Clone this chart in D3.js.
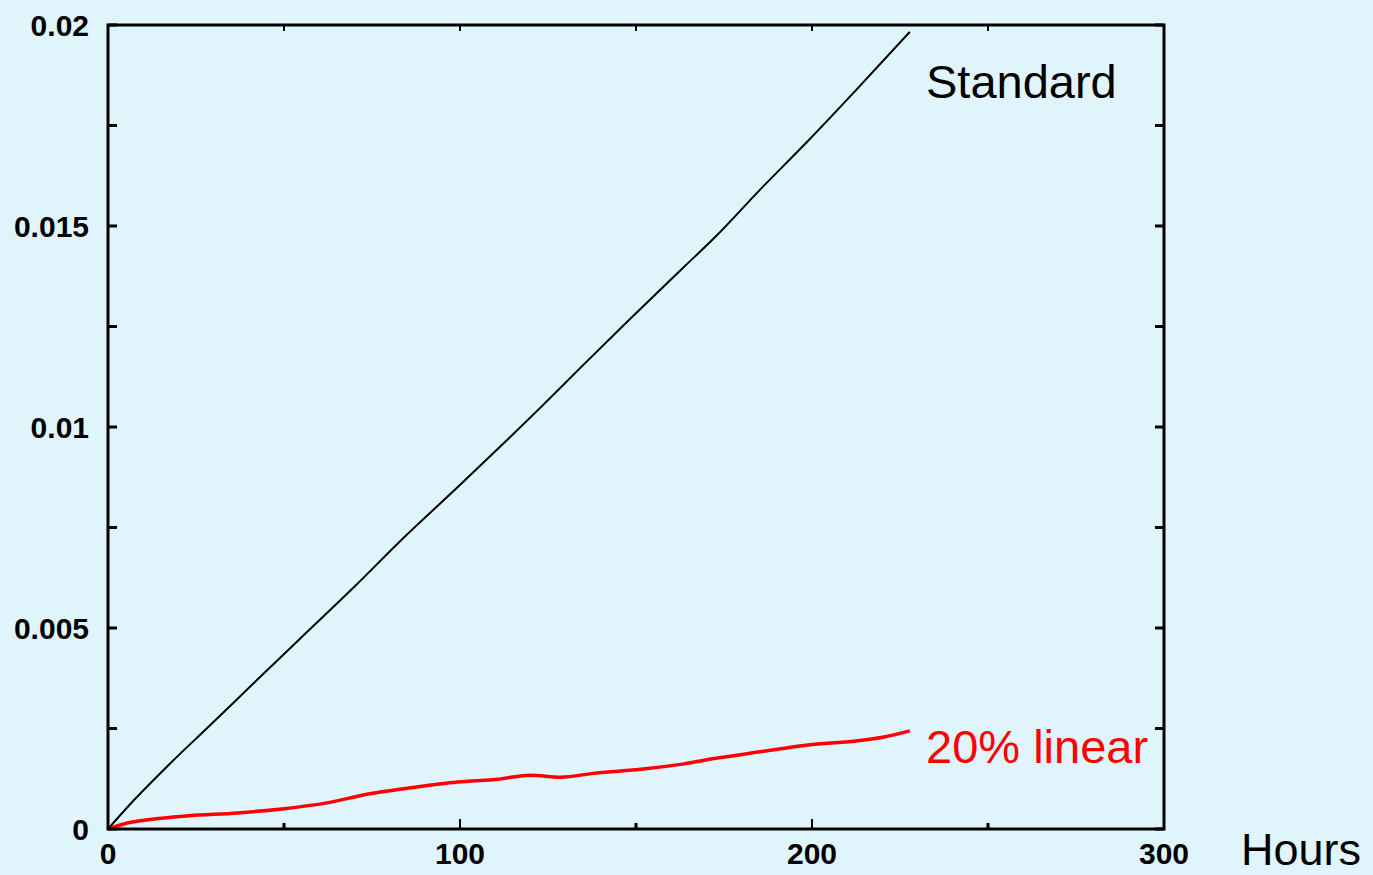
<!DOCTYPE html>
<html>
<head>
<meta charset="utf-8">
<script src="https://cdn.jsdelivr.net/npm/d3@7"></script>
<style>
  html, body { margin: 0; padding: 0; background: #E0F4FC; }
  svg { display: block; }
</style>
</head>
<body>
<svg id="chart" width="1373" height="875"></svg>
<script>
// ---- Data ----
const standardHours = [0, 7.4, 17.3, 29.0, 42.6, 56.3, 69.9, 83.7, 99.3, 113.9, 122.7, 134.4, 148.0, 163.6, 172.2, 185.2, 198.9, 212.5, 227.8];
const standardValues = [0, 0.00072, 0.00160, 0.00258, 0.00373, 0.00488, 0.00602, 0.00722, 0.00850, 0.00972, 0.01047, 0.01149, 0.01266, 0.01398, 0.01470, 0.01590, 0.01712, 0.01838, 0.01983];

const linearHours = [0, 5.5, 15.3, 23, 36.8, 49.4, 62.2, 73.9, 85.5, 99.3, 111, 120, 128.6, 138.4, 152, 163.6, 173.6, 185.2, 198.9, 212.5, 220.5, 227.8];
const linearValues = [0, 0.00015, 0.00027, 0.00033, 0.00040, 0.00050, 0.00065, 0.00087, 0.00102, 0.00117, 0.00124, 0.00134, 0.00129, 0.00139, 0.00149, 0.00162, 0.00177, 0.00192, 0.00209, 0.00219, 0.00229, 0.00244];

const xTickValues = [0, 100, 200, 300];
const xTickLabels = ["0", "100", "200", "300"];
const xMinorTicks = [50, 150, 250];
const yTickValues = [0, 0.005, 0.01, 0.015, 0.02];
const yTickLabels = ["0", "0.005", "0.01", "0.015", "0.02"];
const yMinorTicks = [0.0025, 0.0075, 0.0125, 0.0175];

const seriesNames = ["Standard", "20% linear"];
const xAxisTitle = "Hours";

// ---- Layout ----
const svg = d3.select("#chart");
const padL = 108, padR = 1164, padT = 25, padB = 829;

const x = d3.scaleLinear().domain([0, 300]).range([padL, padR]);
const y = d3.scaleLinear().domain([0, 0.02]).range([padB, padT]);

svg.append("rect").attr("width", 1373).attr("height", 875).attr("fill", "#E0F4FC");

const labelFont = "'Liberation Sans', Arial, Helvetica, sans-serif";

// Ticks (inward, on all four sides)
const g = svg.append("g");
const allY = yTickValues.concat(yMinorTicks);
allY.forEach(v => {
  g.append("line").attr("x1", padL).attr("x2", padL + 9).attr("y1", y(v)).attr("y2", y(v))
    .attr("stroke", "#000").attr("stroke-width", 3);
  g.append("line").attr("x1", padR - 9).attr("x2", padR).attr("y1", y(v)).attr("y2", y(v))
    .attr("stroke", "#000").attr("stroke-width", 3);
});
xTickValues.forEach(v => {
  g.append("line").attr("x1", x(v)).attr("x2", x(v)).attr("y1", padB).attr("y2", padB - 10)
    .attr("stroke", "#000").attr("stroke-width", 2);
  g.append("line").attr("x1", x(v)).attr("x2", x(v)).attr("y1", padT).attr("y2", padT + 6)
    .attr("stroke", "#000").attr("stroke-width", 2);
});
xMinorTicks.forEach(v => {
  g.append("line").attr("x1", x(v)).attr("x2", x(v)).attr("y1", padB).attr("y2", padB - 6)
    .attr("stroke", "#000").attr("stroke-width", 3);
  g.append("line").attr("x1", x(v)).attr("x2", x(v)).attr("y1", padT).attr("y2", padT + 6)
    .attr("stroke", "#000").attr("stroke-width", 2);
});

// Tick labels
yTickValues.forEach((v, i) => {
  svg.append("text").attr("x", 89).attr("y", y(v) + 11)
    .attr("text-anchor", "end").attr("font-family", labelFont)
    .attr("font-weight", "bold").attr("font-size", 30)
    .attr("fill", "#000").text(yTickLabels[i]);
});
xTickValues.forEach((v, i) => {
  svg.append("text").attr("x", x(v)).attr("y", 864)
    .attr("text-anchor", "middle").attr("font-family", labelFont)
    .attr("font-weight", "bold").attr("font-size", 30)
    .attr("fill", "#000").text(xTickLabels[i]);
});

// Lines
const line = d3.line().x(d => x(d[0])).y(d => y(d[1])).curve(d3.curveMonotoneX);
const stdData = standardHours.map((h, i) => [h, standardValues[i]]);
const linData = linearHours.map((h, i) => [h, linearValues[i]]);

svg.append("path").datum(linData).attr("d", line)
  .attr("fill", "none").attr("stroke", "#FF0000").attr("stroke-width", 3.5).attr("stroke-linejoin", "round");
svg.append("path").datum(stdData).attr("d", line)
  .attr("fill", "none").attr("stroke", "#000").attr("stroke-width", 2).attr("stroke-linejoin", "round");

// Frame
svg.append("rect").attr("x", padL).attr("y", padT).attr("width", padR - padL).attr("height", padB - padT)
  .attr("fill", "none").attr("stroke", "#000").attr("stroke-width", 3);

// Series labels
svg.append("text").attr("x", 926).attr("y", 98).attr("font-family", labelFont)
  .attr("font-size", 47).attr("fill", "#000").text(seriesNames[0]);
svg.append("text").attr("x", 926).attr("y", 763).attr("font-family", labelFont)
  .attr("font-size", 47).attr("fill", "#FF0000").text(seriesNames[1]);

// Axis title
svg.append("text").attr("x", 1241).attr("y", 865).attr("font-family", labelFont)
  .attr("font-size", 45).attr("fill", "#000").text(xAxisTitle);
</script>
</body>
</html>
